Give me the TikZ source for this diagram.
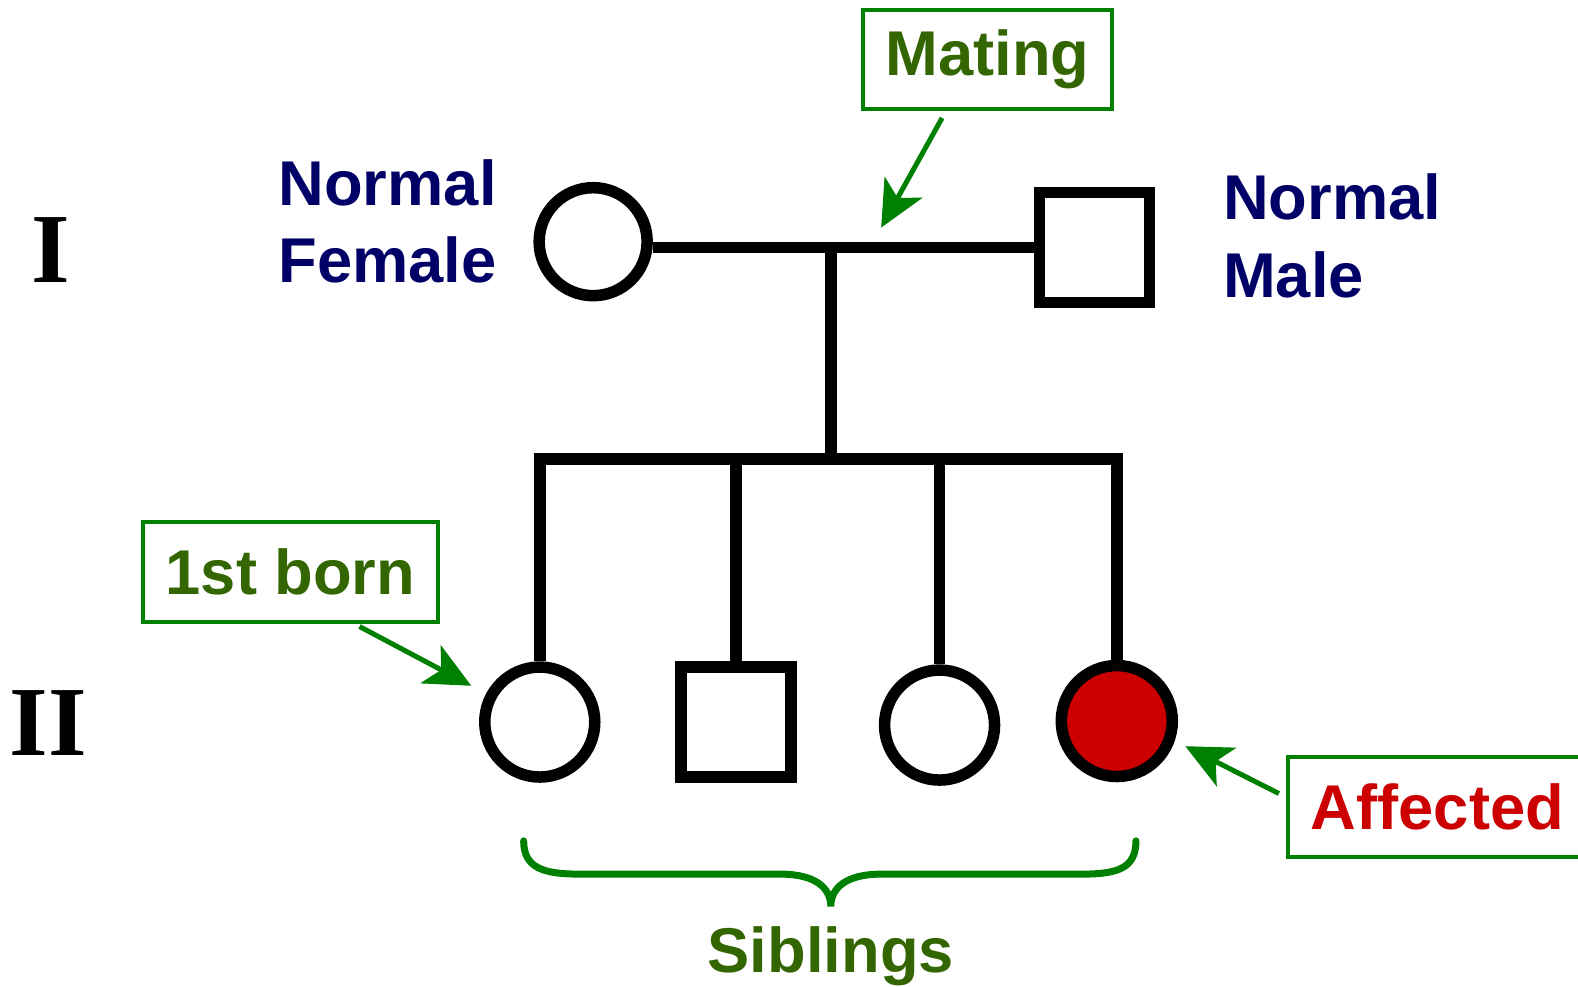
\documentclass[tikz,border=0pt]{standalone}
\usepackage{fontspec}
\setmainfont{Liberation Sans}
\newfontfamily\genfont{Liberation Serif}
\usetikzlibrary{arrows.meta}
\definecolor{navy}{RGB}{0,0,102}
\definecolor{leaf}{RGB}{51,102,0}
\definecolor{frame}{RGB}{0,128,0}
\definecolor{sick}{RGB}{204,0,0}

\begin{document}
\begin{tikzpicture}[x=0.01007cm, y=-0.01007cm, line width=0.115cm,
    female/.style={circle, draw, inner sep=0pt, minimum size=1.1cm},
    male/.style={rectangle, draw, inner sep=0pt, minimum size=1.1cm},
    big/.style={font=\bfseries\fontsize{18}{22.1}\selectfont},
    tag/.style={big, draw=frame, line width=0.04cm, inner sep=0pt, text=leaf, minimum height=0.99cm},
    who/.style={big, text=navy, align=left, anchor=west, inner sep=0pt},
    pointer/.style={draw=frame, line width=0.05cm, -{Stealth[length=0.46cm, width=0.43cm, inset=0.12cm]}},
    gen/.style={font=\genfont\bfseries\fontsize{28.2}{30}\selectfont, inner sep=0pt}]

    \useasboundingbox (0,0) rectangle (1567,980);

    % generation I
    \node[gen] (genI) at (50,248) {I};
    \node[female, minimum size=1.08cm] (mother) at (589,240) {};
    \node[male] (father) at (1087,246) {};
    \node[who] (motherlbl) at (271,220) {Normal\\Female};
    \node[who] (fatherlbl) at (1209,234) {Normal\\Male};

    % generation II
    \node[gen] (genII) at (48,718) {II};
    \node[female] (kid1) at (536,717) {};
    \node[male] (kid2) at (731,717) {};
    \node[female] (kid3) at (933,720) {};
    \node[female, fill=sick, minimum size=1.11cm] (kid4) at (1109,716) {};

    % lines of descent
    \coordinate (mate) at (825,246);
    \coordinate (sib) at (825,456);
    \draw (mother.east |- mate) -- (father.west |- mate);
    \draw (mate) -- (sib);
    \draw (kid1.north) |- (sib) -| (kid4.north);
    \draw (kid2.north) -- (kid2.north |- sib);
    \draw (kid3.north) -- (kid3.north |- sib);

    % call-outs
    \node[tag, minimum width=2.49cm] (mating) at (980.5,59) {Mating};
    \node[tag, minimum width=2.95cm] (born) at (288.5,568) {1st born};
    \node[tag, text=sick, anchor=west, inner xsep=0.23cm, text width=2.8cm, align=left, minimum height=1cm] (affected) at (1277,801.5) {Affected};

    \coordinate (matetip) at (875,226);
    \coordinate (borntip) at (468,681);
    \coordinate (sicktip) at (1177,741);
    \draw[pointer] ([shift={(-45,7)}]mating.south) -- (matetip);
    \draw[pointer] ([shift={(68.5,3)}]born.south) -- (borntip);
    \draw[pointer] ([shift={(-7,-13.5)}]affected.west) -- (sicktip);

    % brace under the siblings
    \draw[frame, line width=0.07cm, line cap=round]
        (520,835) .. controls (520,862) and (540,868) .. (575,868)
        -- (775,868) .. controls (810,868) and (825,882) .. (825,900)
        .. controls (825,882) and (840,868) .. (875,868)
        -- (1075,868) .. controls (1110,868) and (1128,862) .. (1128,835);
    \node[big, text=leaf, inner sep=0pt] (siblings) at (825,950) {Siblings};

\end{tikzpicture}
\end{document}
